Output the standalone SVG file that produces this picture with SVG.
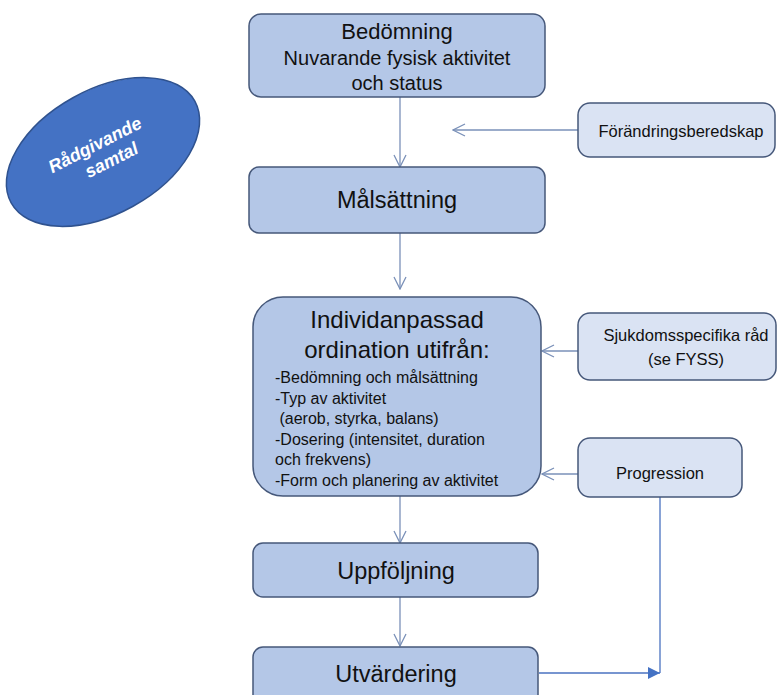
<svg xmlns="http://www.w3.org/2000/svg" width="777" height="695" viewBox="0 0 777 695">
  <style>
    .box { fill: #B4C7E7; stroke: #46587A; stroke-width: 1.5; }
    .sbox { fill: #DAE3F3; stroke: #46587A; stroke-width: 1.5; }
    .t { font-family: "Liberation Sans", Arial, sans-serif; fill: #111; text-anchor: middle; }
    .l { font-family: "Liberation Sans", Arial, sans-serif; fill: #111; font-size: 16px; }
    .conn { fill: none; stroke: #7A90B8; stroke-width: 1.3; }
    .conn2 { fill: none; stroke: #4A72C0; stroke-width: 1.3; }
  </style>
  <defs>
    <marker id="open" markerUnits="userSpaceOnUse" markerWidth="14" markerHeight="14" viewBox="0 0 14 14" refX="13" refY="7" orient="auto">
      <path d="M1,1 L13,7 L1,13" fill="none" stroke="#7A90B8" stroke-width="1.3"/>
    </marker>
    <marker id="filled" markerUnits="userSpaceOnUse" markerWidth="12" markerHeight="12" viewBox="0 0 12 12" refX="12" refY="6" orient="auto">
      <path d="M0,0 L12,6 L0,12 Z" fill="#4472C4"/>
    </marker>
  </defs>

  <rect width="777" height="695" fill="#ffffff"/>

  <g id="connectors">
    <path class="conn" d="M400,97 V167" marker-end="url(#open)"/>
    <path class="conn" d="M578,130 H453" marker-end="url(#open)"/>
    <path class="conn" d="M400,233 V289" marker-end="url(#open)"/>
    <path class="conn" d="M578,351 H542" marker-end="url(#open)"/>
    <path class="conn" d="M578,474 H542" marker-end="url(#open)"/>
    <path class="conn" d="M400,496 V543" marker-end="url(#open)"/>
    <path class="conn" d="M400,597 V646" marker-end="url(#open)"/>
    <path class="conn2" d="M660,497 V673"/>
    <path class="conn2" d="M539,673 H660" marker-end="url(#filled)"/>
  </g>

  <g id="radgivande">
    <g transform="translate(103,152) rotate(-29)">
      <ellipse cx="0" cy="0" rx="105" ry="62" fill="#4472C4" stroke="#2F528F" stroke-width="1.5"/>
    </g>
    <g transform="translate(103,152) rotate(-27)" font-family="'Liberation Sans', Arial, sans-serif" font-weight="bold" font-style="italic" font-size="18" fill="#ffffff" text-anchor="middle">
      <text x="-4" y="-4">Rådgivande</text>
      <text x="4" y="17">samtal</text>
    </g>
  </g>

  <g id="bedomning">
    <rect class="box" x="249" y="14" width="296" height="83" rx="12"/>
    <text class="t" x="397" y="39" font-size="22">Bedömning</text>
    <text class="t" x="397" y="65" font-size="20">Nuvarande fysisk aktivitet</text>
    <text class="t" x="397" y="90" font-size="20">och status</text>
  </g>

  <g id="forandringsberedskap">
    <rect class="sbox" x="578" y="103" width="197" height="54" rx="12"/>
    <text class="t" x="681" y="137" font-size="16.5">Förändringsberedskap</text>
  </g>

  <g id="malsattning">
    <rect class="box" x="249" y="167" width="296" height="66" rx="10"/>
    <text class="t" x="397" y="208" font-size="23.5">Målsättning</text>
  </g>

  <g id="individanpassad">
    <rect class="box" x="253" y="297" width="288" height="199" rx="30"/>
    <text class="t" x="397" y="328" font-size="24">Individanpassad</text>
    <text class="t" x="397" y="358" font-size="24">ordination utifrån:</text>
    <text class="l" x="275" y="383">-Bedömning och målsättning</text>
    <text class="l" x="275" y="404">-Typ av aktivitet</text>
    <text class="l" x="275" y="424" xml:space="preserve"> (aerob, styrka, balans)</text>
    <text class="l" x="275" y="445">-Dosering (intensitet, duration</text>
    <text class="l" x="275" y="465">och frekvens)</text>
    <text class="l" x="275" y="486">-Form och planering av aktivitet</text>
  </g>

  <g id="sjukdomsspecifika">
    <rect class="sbox" x="578" y="313" width="198" height="67" rx="12"/>
    <text class="t" x="686" y="341" font-size="16.5">Sjukdomsspecifika råd</text>
    <text class="t" x="686" y="365" font-size="16.5">(se FYSS)</text>
  </g>

  <g id="progression">
    <rect class="sbox" x="578" y="438" width="164" height="59" rx="12"/>
    <text class="t" x="660" y="479" font-size="16.5">Progression</text>
  </g>

  <g id="uppfoljning">
    <rect class="box" x="253" y="543" width="285" height="54" rx="10"/>
    <text class="t" x="396" y="579" font-size="23.5">Uppföljning</text>
  </g>

  <g id="utvardering">
    <rect class="box" x="253" y="647" width="285" height="60" rx="10"/>
    <text class="t" x="396" y="682" font-size="23.5">Utvärdering</text>
  </g>
</svg>
